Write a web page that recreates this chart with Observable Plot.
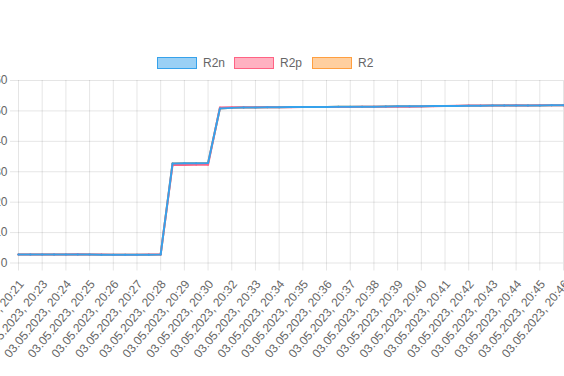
<!DOCTYPE html>
<html>
<head>
<meta charset="utf-8">
<script src="https://cdn.jsdelivr.net/npm/d3@7"></script>
<script src="https://cdn.jsdelivr.net/npm/@observablehq/plot@0.6"></script>
<style>
  html, body { margin: 0; padding: 0; background: #fff; overflow: hidden; }
  body { width: 564px; height: 376px; font-family: "Liberation Sans", Arial, sans-serif; }
  #legend { position: relative; height: 76px; }
  .item { position: absolute; top: 57px; display: flex; align-items: center; font-size: 12px; color: #666; line-height: 12px; }
  .box { width: 40px; height: 12px; box-sizing: border-box; border: 1px solid; margin-right: 6px; }
  svg { overflow: visible; }
</style>
</head>
<body>
<div id="legend"></div>
<div id="chart"></div>
<script>
// Category tick labels (every second sample is labelled)
const timeLabels = [
  "03.05.2023, 20:21","03.05.2023, 20:23","03.05.2023, 20:24","03.05.2023, 20:25",
  "03.05.2023, 20:26","03.05.2023, 20:27","03.05.2023, 20:28","03.05.2023, 20:29",
  "03.05.2023, 20:30","03.05.2023, 20:32","03.05.2023, 20:33","03.05.2023, 20:34",
  "03.05.2023, 20:35","03.05.2023, 20:36","03.05.2023, 20:37","03.05.2023, 20:38",
  "03.05.2023, 20:39","03.05.2023, 20:40","03.05.2023, 20:41","03.05.2023, 20:42",
  "03.05.2023, 20:43","03.05.2023, 20:44","03.05.2023, 20:45","03.05.2023, 20:46"
];
const yTicks = [0, 10, 20, 30, 40, 50, 60];
const seriesNames = ["R2n", "R2p", "R2"];

// Series values (47 samples)
const R2n = [2.8,2.8,2.8,2.8,2.8,2.8,2.8,2.75,2.75,2.7,2.75,2.75,2.8,
  32.7,32.8,32.8,32.9,
  50.8,51.0,51.1,51.15,51.2,51.2,51.25,51.3,51.3,51.3,
  51.35,51.35,51.4,51.4,51.45,51.5,51.5,51.55,51.6,51.6,
  51.65,51.7,51.7,51.75,51.75,51.8,51.8,51.8,51.85,51.85];
const R2p = [2.8,2.8,2.8,2.8,2.8,2.85,2.8,2.8,2.75,2.75,2.75,2.8,2.8,
  32.2,32.2,32.3,32.3,
  51.1,51.2,51.2,51.2,51.25,51.2,51.2,51.25,51.3,51.3,
  51.3,51.3,51.35,51.35,51.4,51.35,51.4,51.45,51.5,51.6,
  51.7,51.75,51.75,51.8,51.8,51.85,51.8,51.85,51.85,51.85];
const R2 = [2.8,2.8,2.8,2.8,2.8,2.8,2.8,2.75,2.75,2.7,2.75,2.75,2.8,
  32.7,32.8,32.8,32.9,
  50.8,51.0,51.1,51.15,51.2,51.2,51.25,51.3,51.3,51.3,
  51.35,51.35,51.4,51.4,51.45,51.5,51.5,51.55,51.6,51.6,
  51.65,51.7,51.7,51.75,51.75,51.8,51.8,51.8,51.85,51.85];

const colors = {
  R2n: "rgb(54,162,235)",
  R2p: "rgb(255,99,132)",
  R2: "rgb(255,159,64)"
};
const fills = {
  R2n: "rgba(54,162,235,0.5)",
  R2p: "rgba(255,99,132,0.5)",
  R2: "rgba(255,159,64,0.5)"
};

const rows = R2n.map((v, i) => ({i, R2n: v, R2p: R2p[i], R2: R2[i]}));
const xTicks = timeLabels.map((_, k) => k * 2);

// Legend
const legendPos = [157, 234, 312];
const legend = document.getElementById("legend");
seriesNames.forEach((name, k) => {
  const item = document.createElement("div");
  item.className = "item";
  item.style.left = legendPos[k] + "px";
  const box = document.createElement("span");
  box.className = "box";
  box.style.background = fills[name];
  box.style.borderColor = colors[name];
  const label = document.createElement("span");
  label.textContent = name;
  item.append(box, label);
  legend.append(item);
});

const chart = Plot.plot({
  width: 564,
  height: 300,
  marginTop: 4,
  marginBottom: 113.5,
  marginLeft: 18,
  marginRight: 1,
  style: {fontFamily: "Liberation Sans, Arial, sans-serif", overflow: "visible"},
  x: {type: "linear", domain: [0, rows.length - 1], axis: null},
  y: {domain: [0, 60], axis: null},
  marks: [
    Plot.gridY(yTicks, {stroke: "#000", strokeOpacity: 0.1}),
    Plot.gridX(xTicks, {stroke: "#000", strokeOpacity: 0.1}),
    Plot.axisY({ticks: yTicks, tickSize: 8, tickFormat: () => "", label: null, stroke: "#000", strokeOpacity: 0.1}),
    Plot.axisX({ticks: xTicks, tickSize: 8, tickFormat: () => "", label: null, stroke: "#000", strokeOpacity: 0.1}),
    Plot.text(yTicks, {y: d => d, text: d => String(d), frameAnchor: "left", dx: -11, textAnchor: "end", fill: "#666", fontSize: 12}),
    Plot.text(timeLabels, {x: xTicks, text: timeLabels, frameAnchor: "bottom", rotate: -50, textAnchor: "end", lineAnchor: "middle", dy: 19, dx: 3, fill: "#666", fontSize: 12}),
    Plot.areaY(rows, {x: "i", y1: "R2p", y2: "R2n", fill: fills.R2n}),
    Plot.line(rows, {x: "i", y: "R2", stroke: colors.R2, strokeWidth: 2}),
    Plot.dot(rows, {x: "i", y: "R2", r: 1, fill: colors.R2}),
    Plot.line(rows, {x: "i", y: "R2p", stroke: colors.R2p, strokeWidth: 2}),
    Plot.dot(rows, {x: "i", y: "R2p", r: 1, fill: colors.R2p}),
    Plot.line(rows, {x: "i", y: "R2n", stroke: colors.R2n, strokeWidth: 2}),
    Plot.dot(rows, {x: "i", y: "R2n", r: 1, fill: colors.R2n})
  ]
});
document.getElementById("chart").append(chart);
</script>
</body>
</html>
